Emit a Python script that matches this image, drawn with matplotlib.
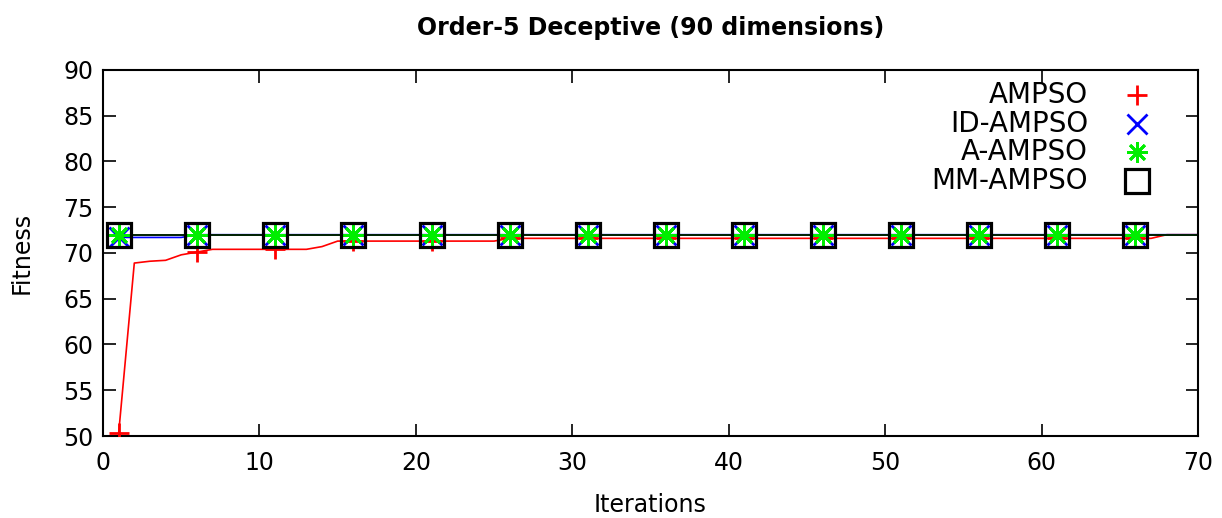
import matplotlib
matplotlib.use("Agg")
import matplotlib.pyplot as plt

plt.rcParams['font.family'] = ['DejaVu Sans']

# fitness per iteration (1..70)
iterations = list(range(1, 71))
ampso = ([50.3, 68.9, 69.1, 69.2, 69.8, 70.1] + [70.4] * 7 + [70.7]
         + [71.3] * 11 + [71.6] * 42 + [72.0] * 3)
id_ampso = [71.7] * 5 + [72.0] * 65
a_ampso = [72.0] * 70
mm_ampso = [72.0] * 70

labels = ["AMPSO", "ID-AMPSO", "A-AMPSO", "MM-AMPSO"]
colors = ["#ff0000", "#0000ff", "#00ee00", "#000000"]
markers = ["+", "x", (8, 2, 0), "s"]

fig = plt.figure(figsize=(12.22, 5.18), dpi=100)
ax = fig.add_axes([0.0843, 0.1583, 0.8961, 0.7066])

series = [ampso, id_ampso, a_ampso, mm_ampso]
sizes = [15, 15, 15, 17]
widths = [2.0, 2.0, 2.0, 2.3]
for ys, c, m, ms, mw in zip(series, colors, markers, sizes, widths):
    ax.plot(iterations, ys, color=c, lw=1.2, zorder=2)
    ax.plot(iterations[::5], ys[::5], ls="none", marker=m, ms=ms,
            mec=c, mfc="none", mew=mw, zorder=3)

ax.set_xlim(0, 70)
ax.set_ylim(50, 90)
ax.set_xticks(range(0, 71, 10))
ax.set_yticks(range(50, 91, 5))
ax.tick_params(direction="in", length=9, width=1.2, top=True, right=True,
               labelsize=17)
ax.tick_params(axis="x", pad=11)
ax.tick_params(axis="y", pad=7)
for s in ax.spines.values():
    s.set_linewidth(1.5)

fig.text(0.5323, 0.946, "Order-5 Deceptive (90 dimensions)", fontsize=17,
         fontweight="bold", ha="center", va="center")
fig.text(0.5323, 0.026, "Iterations", fontsize=17, ha="center", va="center")
fig.text(0.018, 0.5117, "Fitness", fontsize=17, ha="center", va="center",
         rotation=90)

# key: labels right-aligned, symbol to the right
rows = [0.9317, 0.8525, 0.776, 0.697]
for lab, c, m, ms, mw, yy in zip(labels, colors, markers, sizes, widths, rows):
    ax.text(0.8995, yy, lab, transform=ax.transAxes, ha="right",
            va="center", fontsize=20)
    ax.plot([0.9443], [yy], transform=ax.transAxes, ls="none", marker=m,
            ms=ms, mec=c, mfc="none", mew=mw, clip_on=False)

fig.savefig("out.png", dpi=100)
